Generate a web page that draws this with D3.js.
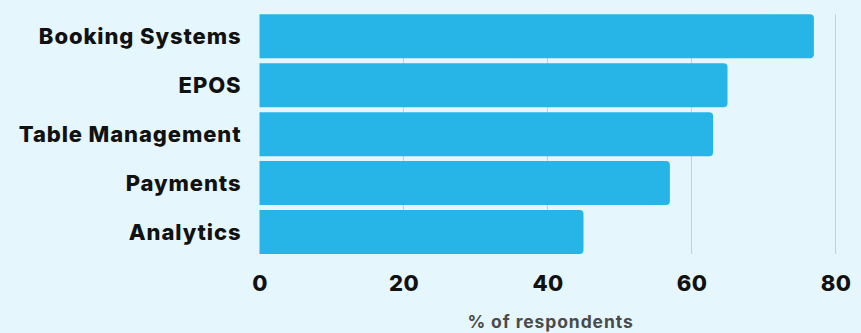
<!DOCTYPE html>
<html><head><meta charset="utf-8">
<script src="https://cdn.jsdelivr.net/npm/d3@7"></script>
<style>
html,body{margin:0;padding:0;background:#e5f7fd;}
svg{display:block;}
</style></head>
<body>
<script>
const categories = ["Booking Systems","EPOS","Table Management","Payments","Analytics"];
const values = [77,65,63,57,45];
const tickValues = [0,20,40,60,80];
const axisTitle = "% of respondents";

const W = 861, H = 333;
const margin = {left:259.5, right:25, top:14.3, bottom:79};
const svg = d3.select("body").append("svg").attr("width",W).attr("height",H);
svg.append("rect").attr("width",W).attr("height",H).attr("fill","#e5f7fd");

const x = d3.scaleLinear().domain([0,80]).range([margin.left, 835.5]);
const y = d3.scaleBand().domain(categories).range([margin.top, H-margin.bottom]).paddingInner(0.1).paddingOuter(0.0);

// gridlines
svg.append("g").selectAll("line").data(tickValues.filter(d=>d>0)).join("line")
  .attr("x1",d=>x(d)).attr("x2",d=>x(d))
  .attr("y1",margin.top).attr("y2",H-margin.bottom)
  .attr("stroke","#c5d0d6").attr("stroke-width",1);

// bars with right-rounded corners
const r = 4;
svg.append("g").selectAll("path").data(categories).join("path")
  .attr("d",(c,i)=>{
    const x0 = x(0), x1 = x(values[i]), y0 = y(c), h = y.bandwidth();
    return `M${x0},${y0}H${x1-r}Q${x1},${y0} ${x1},${y0+r}V${y0+h-r}Q${x1},${y0+h} ${x1-r},${y0+h}H${x0}Z`;
  })
  .attr("fill","#27b5e8");

// y axis labels
const yAxis = d3.axisLeft(y).tickSize(0).tickPadding(18);
const gy = svg.append("g").attr("transform",`translate(${x(0)},0)`).call(yAxis);
gy.select(".domain").remove();
gy.selectAll("text").attr("font-family","Inter, 'Open Sans', sans-serif")
  .attr("font-weight",800).attr("font-size","22px").attr("fill","#111")
  .attr("letter-spacing","0.9px").attr("dy","0.36em");

// x axis
const xAxis = d3.axisBottom(x).tickValues(tickValues).tickSize(0).tickPadding(0);
const gx = svg.append("g").attr("transform",`translate(0,${291})`).call(xAxis);
gx.select(".domain").remove();
gx.selectAll("text").attr("dy","0").attr("y",0)
  .attr("font-family","Inter, 'Open Sans', sans-serif")
  .attr("font-weight",800).attr("font-size","22px").attr("fill","#111").attr("letter-spacing","0.3px");

svg.append("text").attr("x",(467+634)/2).attr("y",328)
  .attr("text-anchor","middle").attr("font-family","Inter, 'Open Sans', sans-serif")
  .attr("font-weight",700).attr("font-size","17.5px").attr("fill","#4a4a4a").attr("letter-spacing","0.9px")
  .text(axisTitle);
</script>
</body></html>
